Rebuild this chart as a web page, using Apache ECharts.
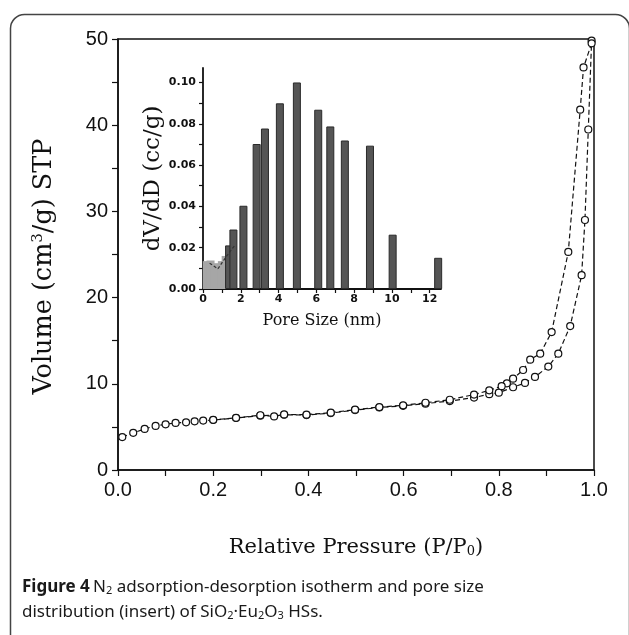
<!DOCTYPE html>
<html>
<head>
<meta charset="utf-8">
<script src="https://cdn.jsdelivr.net/npm/echarts@6/dist/echarts.min.js"></script>
<style>
html,body{margin:0;padding:0;background:#fff;}
#chart{width:629px;height:635px;}
</style>
</head>
<body>
<div id="chart"></div>
<script>
// ---- Main isotherm data (P/P0, volume cm3/g STP) ----
var adsP = [0.009,0.032,0.056,0.079,0.100,0.121,0.143,0.161,0.179,0.200,0.248,0.299,0.349,0.396,0.447,0.498,0.549,0.599,0.646,0.697,0.748,0.780,0.800,0.830,0.855,0.876,0.904,0.925,0.950,0.974,0.981,0.988,0.995];
var adsV = [3.82,4.31,4.77,5.11,5.30,5.46,5.53,5.65,5.73,5.80,6.03,6.30,6.41,6.37,6.60,6.95,7.25,7.44,7.70,8.00,8.40,8.80,8.97,9.60,10.10,10.80,12.00,13.50,16.70,22.60,29.00,39.50,49.80];
var desP = [0.995,0.978,0.971,0.946,0.911,0.887,0.866,0.851,0.830,0.817,0.806,0.780,0.748,0.697,0.646,0.599,0.549,0.498,0.447,0.396,0.349,0.328,0.299,0.248,0.200];
var desV = [49.5,46.7,41.8,25.3,16.0,13.5,12.8,11.6,10.6,10.05,9.73,9.24,8.75,8.15,7.80,7.50,7.30,7.00,6.65,6.42,6.45,6.22,6.35,6.05,5.82];

// ---- Inset pore size distribution (nm, cc/g) ----
var smallD = [0.2,0.4,0.6,0.8,1.0,1.2];
var smallV = [0.0135,0.0138,0.0125,0.0110,0.0135,0.0160];
var poreD = [1.38,1.61,2.14,2.84,3.28,4.07,4.97,6.10,6.74,7.51,8.84,10.04,12.45];
var poreV = [0.0211,0.0288,0.0403,0.0702,0.0777,0.0899,0.1000,0.0868,0.0787,0.0719,0.0694,0.0263,0.0151];
var trendD = [0.35,0.79,1.15,1.41,1.68];
var trendV = [0.0125,0.0098,0.0146,0.0179,0.0211];

// ---- Ticks ----
var mainXTicks = [0,0.1,0.2,0.3,0.4,0.5,0.6,0.7,0.8,0.9,1.0];
var mainXLabels = [0,0.2,0.4,0.6,0.8,1.0];
var mainYTicks = [0,5,10,15,20,25,30,35,40,45,50];
var mainYLabels = [0,10,20,30,40,50];
var insetXTicks = [0,1,2,3,4,5,6,7,8,9,10,11,12];
var insetXLabels = [0,2,4,6,8,10,12];
var insetYTicks = [0,0.01,0.02,0.03,0.04,0.05,0.06,0.07,0.08,0.09,0.10];
var insetYLabels = [0,0.02,0.04,0.06,0.08,0.10];

function zip(a,b){return a.map(function(v,i){return [v,b[i]];});}

var chart = echarts.init(document.getElementById('chart'), null, {renderer:'canvas'});
var black = '#111';
var option = {
  animation:false,
  backgroundColor:'#fff',
  grid:[
    {left:118, right:35, top:39, bottom:165, show:true, borderColor:black, borderWidth:1.5, containLabel:false, z:0},
    {left:203, width:238, top:68, height:221, containLabel:false}
  ],
  xAxis:[
    {type:'value', gridIndex:0, min:0, max:1.0,
     name:'{t|Relative Pressure (P/P}{s|0}{t|)}', nameLocation:'middle', nameGap:62,
     nameTextStyle:{rich:{t:{fontFamily:'DejaVu Serif', fontSize:21, color:black, lineHeight:26, verticalAlign:'bottom'}, s:{fontFamily:'DejaVu Serif', fontSize:13, color:black, lineHeight:12, verticalAlign:'bottom'}}},
     axisLine:{show:true, lineStyle:{color:black, width:1.5}},
     axisTick:{show:true, inside:false, length:6, lineStyle:{color:black, width:1.2}, customValues:mainXTicks},
     axisLabel:{customValues:mainXLabels, fontFamily:'Liberation Sans', fontSize:20, color:black, margin:10, formatter:function(v){return v.toFixed(1);}},
     splitLine:{show:false}},
    {type:'value', gridIndex:1, min:0, max:12.6,
     name:'Pore Size (nm)', nameLocation:'middle', nameGap:24,
     nameTextStyle:{fontFamily:'DejaVu Serif', fontSize:16, color:black},
     axisLine:{show:true, lineStyle:{color:black, width:1.8}},
     axisTick:{show:true, inside:false, length:4, lineStyle:{color:black, width:1.2}, customValues:insetXTicks},
     axisLabel:{customValues:insetXLabels, fontFamily:'DejaVu Sans', fontWeight:'bold', fontSize:11, color:black, margin:5},
     splitLine:{show:false}}
  ],
  yAxis:[
    {type:'value', gridIndex:0, min:0, max:50,
     name:'{t|Volume (cm}{p|3}{t|/g) STP}', nameLocation:'middle', nameGap:57, nameRotate:90,
     nameTextStyle:{padding:[0,24,0,0], rich:{t:{fontFamily:'DejaVu Serif', fontSize:25.5, color:black, lineHeight:30, verticalAlign:'top'}, p:{fontFamily:'DejaVu Serif', fontSize:15, color:black, lineHeight:15, verticalAlign:'top'}}},
     axisLine:{show:true, lineStyle:{color:black, width:1.5}},
     axisTick:{show:true, inside:false, length:6, lineStyle:{color:black, width:1.2}, customValues:mainYTicks},
     axisLabel:{customValues:mainYLabels, fontFamily:'Liberation Sans', fontSize:20, color:black, margin:10},
     splitLine:{show:false}},
    {type:'value', gridIndex:1, min:0, max:0.107,
     name:'dV/dD (cc/g)', nameLocation:'middle', nameGap:29, nameRotate:90,
     nameTextStyle:{fontFamily:'DejaVu Serif', fontSize:23, color:black},
     axisLine:{show:true, lineStyle:{color:black, width:1.8}},
     axisTick:{show:true, inside:false, length:4, lineStyle:{color:black, width:1.2}, customValues:insetYTicks},
     axisLabel:{customValues:insetYLabels, fontFamily:'DejaVu Sans', fontWeight:'bold', fontSize:11, color:black, margin:7, formatter:function(v){return v.toFixed(2);}},
     splitLine:{show:false}}
  ],
  series:[
    {type:'line', name:'adsorption', xAxisIndex:0, yAxisIndex:0, data:zip(adsP,adsV),
     symbol:'circle', symbolSize:7, showSymbol:true,
     itemStyle:{color:'#fff', borderColor:black, borderWidth:1.2},
     lineStyle:{color:black, width:1.2, type:[5,3]}, z:3},
    {type:'line', name:'desorption', xAxisIndex:0, yAxisIndex:0, data:zip(desP,desV),
     symbol:'circle', symbolSize:7, showSymbol:true,
     itemStyle:{color:'#fff', borderColor:black, borderWidth:1.2},
     lineStyle:{color:black, width:1.2, type:[5,3]}, z:3},
    {type:'bar', name:'micro', xAxisIndex:1, yAxisIndex:1, data:zip(smallD,smallV),
     barWidth:8, barGap:'-100%', itemStyle:{color:'#a6a6a6'}},
    {type:'bar', name:'pore', xAxisIndex:1, yAxisIndex:1, data:zip(poreD,poreV),
     barWidth:8, barGap:'-100%', itemStyle:{color:'#555555', borderColor:'#2a2a2a', borderWidth:1}, z:3},
    {type:'line', name:'trend', xAxisIndex:1, yAxisIndex:1, data:zip(trendD,trendV),
     symbol:'none', lineStyle:{color:'#333', width:1.2, type:[3,2]}, z:4}
  ],
  graphic:[
    {type:'rect', left:8, top:12, shape:{x:0,y:0,width:619,height:640,r:14}, style:{fill:null, stroke:'#444', lineWidth:1.5}, silent:true, z:-1},
    {type:'text', left:22, top:578, style:{
      text:'{b|Figure 4} {n|N}{s|2}{n| adsorption-desorption isotherm and pore size}',
      rich:{b:{fontFamily:'Noto Sans', fontWeight:'bold', fontSize:17, fill:'#1a1a1a', lineHeight:24, verticalAlign:'bottom'},
            n:{fontFamily:'Noto Sans', fontSize:17, fill:'#1a1a1a', lineHeight:24, verticalAlign:'bottom'},
            s:{fontFamily:'Noto Sans', fontSize:11, fill:'#1a1a1a', lineHeight:12, verticalAlign:'bottom'}}}},
    {type:'text', left:22, top:604, style:{
      text:'{n|distribution (insert) of SiO}{s|2}{n|·Eu}{s|2}{n|O}{s|3}{n| HSs.}',
      rich:{n:{fontFamily:'Noto Sans', fontSize:17, fill:'#1a1a1a', lineHeight:24, verticalAlign:'bottom'},
            s:{fontFamily:'Noto Sans', fontSize:11, fill:'#1a1a1a', lineHeight:12, verticalAlign:'bottom'}}}}
  ]
};
chart.setOption(option);
</script>
</body>
</html>
